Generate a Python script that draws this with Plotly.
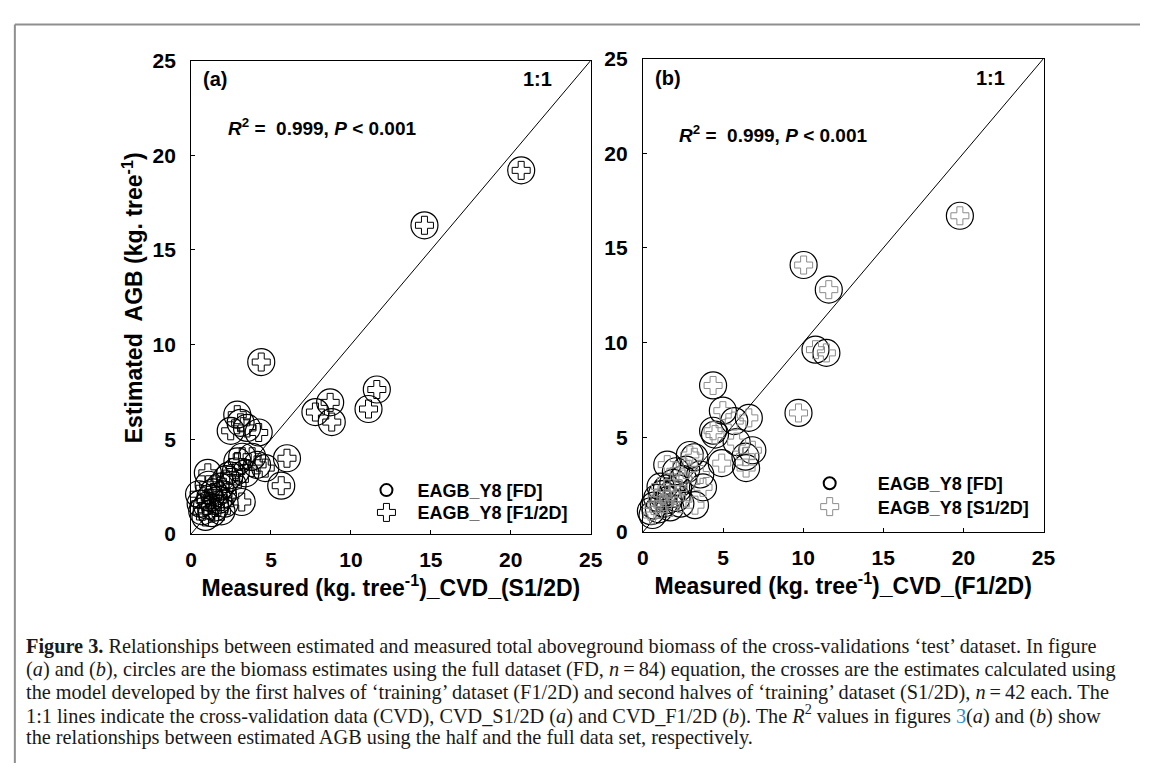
import plotly.graph_objects as go

# ---------------- data ----------------
ticks = [0, 5, 10, 15, 20, 25]
one_to_one = [0, 25]

# Panel (a): measured (CVD_S1/2D) vs estimated AGB
a_measured = [20.65, 14.6, 4.39, 11.62, 11.1, 8.7, 7.78, 8.8, 6.0, 5.64,
              3.17, 2.89, 3.1, 2.48, 4.23, 3.5, 4.64, 3.82, 3.2, 2.9,
              4.13, 1.05, 0.5, 0.7, 0.9, 1.0, 1.2, 1.4, 1.5, 1.7,
              1.8, 2.0, 2.2, 2.4, 2.6, 2.1, 1.3, 0.6, 1.9, 2.8,
              3.4, 1.1]
a_est_fd = [19.2, 16.3, 9.08, 7.63, 6.6, 6.95, 6.44, 5.91, 4.0, 2.55,
            1.69, 6.3, 5.87, 5.45, 5.36, 5.6, 3.48, 4.08, 4.08, 3.83,
            3.65, 3.23, 2.1, 1.2, 0.9, 1.5, 1.9, 2.2, 1.4, 1.8,
            2.5, 2.1, 2.9, 3.1, 2.6, 1.6, 1.1, 1.6, 1.2, 3.3,
            3.2, 2.6]
a_est_half = [19.2, 16.3, 9.08, 7.63, 6.6, 6.95, 6.44, 5.91, 4.0, 2.55,
              1.69, 6.3, 5.87, 5.45, 5.36, 5.6, 3.48, 4.08, 4.08, 3.83,
              3.65, 3.23, 2.1, 1.2, 0.9, 1.5, 1.9, 2.2, 1.4, 1.8,
              2.5, 2.1, 2.9, 3.1, 2.6, 1.6, 1.1, 1.6, 1.2, 3.3,
              3.2, 2.6]

# Panel (b): measured (CVD_F1/2D) vs estimated AGB
b_measured = [19.78, 10.03, 11.6, 10.77, 11.45, 4.38, 9.71, 4.99, 5.70, 6.61,
              4.38, 4.5, 5.85, 6.83, 6.4, 6.44, 4.92, 3.21, 2.93, 1.52,
              3.58, 3.75, 3.25, 2.34, 2.06, 0.5, 0.7, 0.9, 1.0, 1.2,
              1.3, 1.5, 1.6, 1.7, 1.8, 1.9, 2.1, 2.2, 2.5, 1.1,
              0.6, 2.7]
b_est_fd = [16.7, 14.1, 12.8, 9.63, 9.46, 7.74, 6.29, 6.41, 5.86, 6.03,
            5.35, 5.15, 4.75, 4.32, 3.98, 3.38, 3.64, 3.95, 4.07, 3.56,
            3.04, 2.36, 1.42, 1.50, 3.21, 1.1, 1.4, 1.8, 1.2, 2.0,
            1.5, 2.3, 1.7, 1.3, 2.0, 2.6, 1.8, 2.3, 2.8, 2.4,
            0.9, 3.3]
b_est_half = [16.7, 14.1, 12.8, 9.63, 9.46, 7.74, 6.29, 6.41, 5.86, 6.03,
              5.35, 5.15, 4.75, 4.32, 3.98, 3.38, 3.64, 3.95, 4.07, 3.56,
              3.04, 2.36, 1.42, 1.50, 3.21, 1.1, 1.4, 1.8, 1.2, 2.0,
              1.5, 2.3, 1.7, 1.3, 2.0, 2.6, 1.8, 2.3, 2.8, 2.4,
              0.9, 3.3]

caption_lines = [
    "<b>Figure 3.</b> Relationships between estimated and measured total aboveground biomass of the cross-validations \u2018test\u2019 dataset. In figure",
    "(<i>a</i>) and (<i>b</i>), circles are the biomass estimates using the full dataset (FD, <i>n</i>\u2009=\u200984) equation, the crosses are the estimates calculated using",
    "the model developed by the first halves of \u2018training\u2019 dataset (F1/2D) and second halves of \u2018training\u2019 dataset (S1/2D), <i>n</i>\u2009=\u200942 each. The",
    "1:1 lines indicate the cross-validation data (CVD), CVD_S1/2D (<i>a</i>) and CVD_F1/2D (<i>b</i>). The <i>R</i><sup>2</sup> values in figures <span style='color:#2b8fd6'>3</span>(<i>a</i>) and (<i>b</i>) show",
    "the relationships between estimated AGB using the half and the full data set, respectively.",
]

# ---------------- styling ----------------
W, H = 1152, 774
SANS = "Liberation Sans, Arial, sans-serif"
SERIF = "Liberation Serif, Times New Roman, serif"


def fx(p):
    return p / W


def fy(p):
    return 1 - p / H


fig = go.Figure()

circle_style = dict(symbol="circle-open", size=27, color="black", line=dict(width=1.2, color="black"))

# Panel (a)
fig.add_trace(go.Scatter(x=one_to_one, y=one_to_one, mode="lines", line=dict(color="black", width=1),
                         showlegend=False, xaxis="x", yaxis="y", hoverinfo="skip"))
fig.add_trace(go.Scatter(x=a_measured, y=a_est_fd, mode="markers", name="EAGB_Y8 [FD]",
                         marker=circle_style, cliponaxis=False, xaxis="x", yaxis="y", legend="legend"))
fig.add_trace(go.Scatter(x=a_measured, y=a_est_half, mode="markers", name="EAGB_Y8 [F1/2D]",
                         marker=dict(symbol="cross-open", size=15, color="black", line=dict(width=1, color="black")),
                         cliponaxis=False, xaxis="x", yaxis="y", legend="legend3"))

# Panel (b)
fig.add_trace(go.Scatter(x=one_to_one, y=one_to_one, mode="lines", line=dict(color="black", width=1),
                         showlegend=False, xaxis="x2", yaxis="y2", hoverinfo="skip"))
fig.add_trace(go.Scatter(x=b_measured, y=b_est_fd, mode="markers", name="EAGB_Y8 [FD]",
                         marker=circle_style, cliponaxis=False, xaxis="x2", yaxis="y2", legend="legend2"))
fig.add_trace(go.Scatter(x=b_measured, y=b_est_half, mode="markers", name="EAGB_Y8 [S1/2D]",
                         marker=dict(symbol="cross-open", size=15, color="#8c8c8c", line=dict(width=1, color="#8c8c8c")),
                         cliponaxis=False, xaxis="x2", yaxis="y2", legend="legend4"))

tickfont = dict(family=SANS, size=21, color="black", weight="bold")
titlefont = dict(family=SANS, size=23, color="black", weight="bold")

axis_common = dict(range=[0, 25], tickvals=ticks, ticks="inside", ticklen=4, tickwidth=1,
                   tickcolor="black", showline=True, linecolor="black", linewidth=1, mirror=True,
                   showgrid=False, zeroline=False, tickfont=tickfont, fixedrange=True)

legend_common = dict(bgcolor="rgba(0,0,0,0)", borderwidth=0, xanchor="left", yanchor="top",
                     font=dict(family=SANS, size=18, color="black", weight="bold"),
                     tracegroupgap=0)

fig.update_layout(
    width=W, height=H,
    margin=dict(l=0, r=0, t=0, b=0),
    paper_bgcolor="white", plot_bgcolor="white",
    xaxis=dict(axis_common, domain=[fx(188), fx(594)], anchor="y", ticklabelstandoff=7,
               title=dict(text="Measured (kg. tree<sup>-1</sup>)_CVD_(S1/2D)", font=titlefont, standoff=4)),
    yaxis=dict(axis_common, domain=[fy(538), fy(50)], anchor="x", ticklabelstandoff=10),
    xaxis2=dict(axis_common, domain=[fx(647), fx(1054)], anchor="y2", ticklabelstandoff=7,
                title=dict(text="Measured (kg. tree<sup>-1</sup>)_CVD_(F1/2D)", font=titlefont, standoff=6)),
    yaxis2=dict(axis_common, domain=[fy(536), fy(48)], anchor="x2", ticklabelstandoff=10),
    # one legend per entry so that the row spacing can follow the reference
    legend=dict(legend_common, x=fx(355), y=fy(474), itemwidth=52, itemsizing="constant"),
    legend3=dict(legend_common, x=fx(355), y=fy(497), itemwidth=52, itemsizing="trace"),
    legend2=dict(legend_common, x=fx(788), y=fy(467), itemwidth=86, itemsizing="constant"),
    legend4=dict(legend_common, x=fx(788), y=fy(491), itemwidth=86, itemsizing="trace"),
    showlegend=True,
)

ann_font = dict(family=SANS, size=20, color="black", weight="bold")
r2_font = dict(family=SANS, size=19, color="black", weight="bold")
r2_text = "<i>R</i><sup>2</sup> =\u00a0 0.999, <i>P</i> &lt; 0.001"
annotations = [
    dict(x=0.6, y=24.0, xref="x", yref="y", text="(a)", showarrow=False, xanchor="left", yanchor="middle", font=ann_font),
    dict(x=22.7, y=24.0, xref="x", yref="y", text="1:1", showarrow=False, xanchor="right", yanchor="middle", font=ann_font),
    dict(x=2.2, y=21.5, xref="x", yref="y", text=r2_text, showarrow=False, xanchor="left", yanchor="middle", font=r2_font),
    dict(x=0.6, y=24.0, xref="x2", yref="y2", text="(b)", showarrow=False, xanchor="left", yanchor="middle", font=ann_font),
    dict(x=22.7, y=24.0, xref="x2", yref="y2", text="1:1", showarrow=False, xanchor="right", yanchor="middle", font=ann_font),
    dict(x=2.1, y=21.0, xref="x2", yref="y2", text=r2_text, showarrow=False, xanchor="left", yanchor="middle", font=r2_font),
    # y-axis title of panel (a)
    dict(x=fx(129), y=fy(294), xref="paper", yref="paper", textangle=-90,
         text="Estimated\u00a0 AGB (kg. tree<sup>-1</sup>)", showarrow=False,
         xanchor="center", yanchor="middle", font=dict(family=SANS, size=23, color="black", weight="bold")),
]
cap_y = [654, 677.5, 701, 724.5, 748]
for txt, yy in zip(caption_lines, cap_y):
    annotations.append(dict(x=fx(18), y=fy(yy), xref="paper", yref="paper", text=txt, showarrow=False,
                            xanchor="left", yanchor="middle", align="left",
                            font=dict(family=SERIF, size=20.3, color="#1a1a1a")))
fig.update_layout(annotations=annotations)

# outer gray frame (top and left edges)
fig.add_shape(type="line", xref="paper", yref="paper", x0=fx(9), x1=1, y0=fy(13), y1=fy(13),
              line=dict(color="#8f8f8f", width=2))
fig.add_shape(type="line", xref="paper", yref="paper", x0=fx(9), x1=fx(9), y0=fy(13), y1=0,
              line=dict(color="#8f8f8f", width=2))

fig.write_html(
    "out.html",
    post_script=("document.body.style.margin='0px';"
                 "document.body.style.overflow='hidden';"
                 "document.documentElement.style.overflow='hidden';"),
    config={"displayModeBar": False},
)
